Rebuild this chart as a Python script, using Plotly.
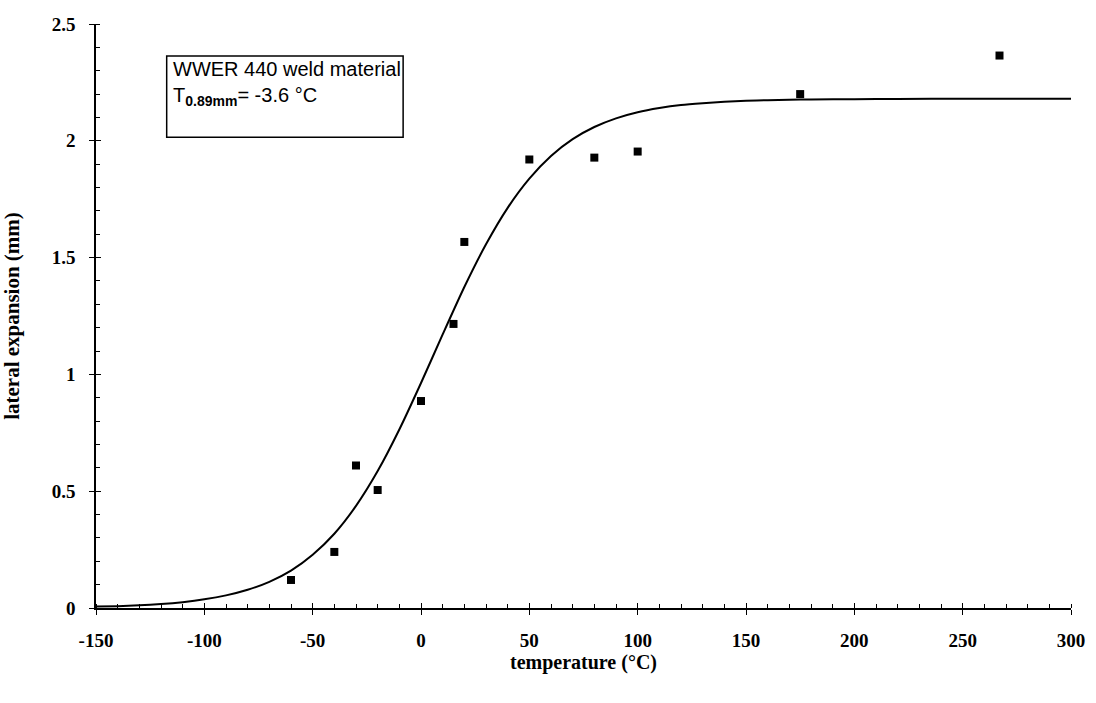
import plotly.graph_objects as go

# measured data points: temperature (°C) vs lateral expansion (mm)
temp_pts = [-60, -40, -30, -20, 0, 15, 20, 50, 80, 100, 175, 267]
le_pts = [0.12, 0.24, 0.61, 0.505, 0.886, 1.216, 1.567, 1.92, 1.928, 1.954, 2.2, 2.365]

# fitted curve, values
curve_t = [-150, -140, -130, -120, -110, -100, -90, -80, -70, -60, -50, -40, -30, -20, -10,
           0, 10, 20, 30, 40, 50, 60, 70, 80, 90, 100, 110, 120, 130, 140, 150,
           160, 170, 180, 200, 220, 250, 300]
curve_le = [0.006, 0.008, 0.012, 0.017, 0.025, 0.037, 0.054, 0.078, 0.112, 0.160, 0.228, 0.318,
            0.437, 0.586, 0.764, 0.963, 1.171, 1.374, 1.557, 1.713, 1.838, 1.935, 2.007, 2.059,
            2.096, 2.122, 2.140, 2.153, 2.161, 2.167, 2.171, 2.174, 2.176, 2.177, 2.178, 2.179,
            2.18, 2.18]

x_ticks = [-150, -100, -50, 0, 50, 100, 150, 200, 250, 300]
x_labels = ["-150", "-100", "-50", "0", "50", "100", "150", "200", "250", "300"]
y_ticks = [0, 0.5, 1, 1.5, 2, 2.5]
y_labels = ["0", "0.5", "1", "1.5", "2", "2.5"]

serif = "Liberation Serif"
sans = "Liberation Sans"

fig = go.Figure()
fig.add_trace(go.Scatter(x=curve_t, y=curve_le, mode="lines",
                         line=dict(color="black", width=2, shape="spline", smoothing=0.6),
                         hoverinfo="skip", showlegend=False))
fig.add_trace(go.Scatter(x=temp_pts, y=le_pts, mode="markers",
                         marker=dict(symbol="square", size=8, color="black"),
                         showlegend=False))
# helper trace for the overlay axes (inner half of the major ticks)
fig.add_trace(go.Scatter(x=[None], y=[None], xaxis="x2", yaxis="y2", mode="markers",
                         showlegend=False, hoverinfo="skip"))

axis_common = dict(showgrid=False, zeroline=False, showline=True, linecolor="black",
                   linewidth=1.5, ticks="outside", ticklen=5, tickwidth=1.2, tickcolor="black",
                   automargin=False)

fig.update_layout(
    width=1096, height=703,
    margin=dict(l=96, r=25, t=24, b=95),
    paper_bgcolor="white", plot_bgcolor="white",
    xaxis=dict(range=[-150, 300], tickmode="array", tickvals=x_ticks,
               ticktext=["<b>%s</b>" % s for s in x_labels],
               tickfont=dict(family=serif, size=19, color="black"),
               ticklabelstandoff=9,
               minor=dict(dtick=10, ticks="inside", ticklen=4, tickcolor="black", tickwidth=1),
               title=dict(text="<b>temperature (°C)</b>",
                          font=dict(family=serif, size=20, color="black"), standoff=5),
               **axis_common),
    yaxis=dict(range=[0, 2.5], tickmode="array", tickvals=y_ticks,
               ticktext=["<b>%s</b>" % s for s in y_labels],
               tickfont=dict(family=serif, size=19, color="black"),
               ticklabelstandoff=10,
               minor=dict(dtick=0.1, ticks="inside", ticklen=4, tickcolor="black", tickwidth=1),
               title=dict(text="<b>lateral expansion (mm)</b>",
                          font=dict(family=serif, size=21, color="black"), standoff=28),
               **axis_common),
    xaxis2=dict(range=[-150, 300], overlaying="x", tickmode="array", tickvals=x_ticks,
                ticks="inside", ticklen=5, tickwidth=1.2, tickcolor="black",
                showticklabels=False, showgrid=False, zeroline=False, showline=False),
    yaxis2=dict(range=[0, 2.5], overlaying="y", tickmode="array", tickvals=y_ticks,
                ticks="inside", ticklen=5, tickwidth=1.2, tickcolor="black",
                showticklabels=False, showgrid=False, zeroline=False, showline=False),
)

# text box
fig.add_shape(type="rect", xref="paper", yref="paper",
              x0=0.0725, x1=0.315, y0=0.806, y1=0.945,
              line=dict(color="black", width=1.5), fillcolor="white", layer="above")
fig.add_annotation(xref="paper", yref="paper", x=0.077, y=0.946, xanchor="left", yanchor="top",
                   align="left", showarrow=False,
                   text="WWER 440 weld material<br>T<sub><b>0.89mm</b></sub>= -3.6 °C",
                   font=dict(family=sans, size=20, color="black"))

# remove the page's default body margin so the figure starts at the window corner
fig.write_html("out.html", config={"displayModeBar": False},
               post_script="document.body.style.margin='0px';")
